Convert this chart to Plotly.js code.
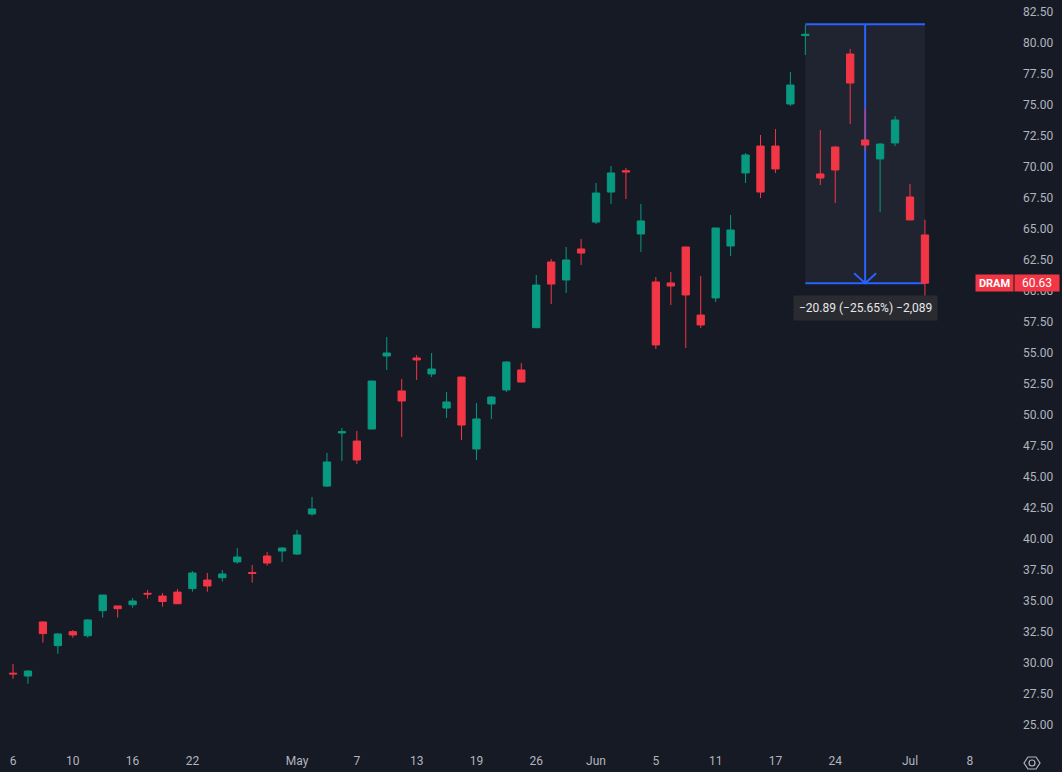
<!DOCTYPE html>
<html>
<head>
<meta charset="utf-8">
<script src="https://cdn.plot.ly/plotly-3.0.1.min.js"></script>
<style>
  html, body { margin: 0; padding: 0; background: #161a25; }
  #chart { width: 1062px; height: 772px; }
</style>
</head>
<body>
<div id="chart"></div>
<script>
// ---- data ----
const symbol = 'DRAM';
const dates = [
  '2026-04-06','2026-04-07','2026-04-08','2026-04-09','2026-04-10',
  '2026-04-13','2026-04-14','2026-04-15','2026-04-16','2026-04-17',
  '2026-04-20','2026-04-21','2026-04-22','2026-04-23','2026-04-24',
  '2026-04-27','2026-04-28','2026-04-29','2026-04-30','2026-05-01',
  '2026-05-04','2026-05-05','2026-05-06','2026-05-07','2026-05-08',
  '2026-05-11','2026-05-12','2026-05-13','2026-05-14','2026-05-15',
  '2026-05-18','2026-05-19','2026-05-20','2026-05-21','2026-05-22',
  '2026-05-26','2026-05-27','2026-05-28','2026-05-29',
  '2026-06-01','2026-06-02','2026-06-03','2026-06-04','2026-06-05',
  '2026-06-08','2026-06-09','2026-06-10','2026-06-11','2026-06-12',
  '2026-06-15','2026-06-16','2026-06-17','2026-06-18',
  '2026-06-22','2026-06-23','2026-06-24','2026-06-25','2026-06-26',
  '2026-06-29','2026-06-30','2026-07-01','2026-07-02'
];
const holidays = ['2026-05-25','2026-06-19','2026-07-03'];

const open = [
  29.18, 28.95, 33.31, 31.40, 32.53,
  32.20, 34.22, 34.60, 34.70, 35.62,
  35.40, 35.72, 36.00, 36.69, 36.88,
  38.15, 37.30, 38.63, 39.03, 38.79,
  42.02, 44.27, 48.55, 47.90, 48.87,
  54.76, 51.94, 54.60, 53.31, 50.56,
  53.06, 47.26, 50.89, 52.02, 53.63,
  57.04, 62.34, 60.89, 63.39,
  65.56, 67.98, 69.70, 64.60, 60.73,
  60.65, 63.55, 58.06, 59.44, 63.63,
  69.52, 71.69, 71.69, 75.08,
  80.60, 69.44, 71.61, 79.11, 72.18,
  70.65, 71.94, 67.58, 64.52
];
const high = [
  29.92, 29.43, 33.35, 32.42, 32.66,
  33.55, 35.50, 34.62, 35.24, 35.89,
  35.64, 35.97, 37.42, 37.26, 37.50,
  39.27, 37.90, 38.95, 39.35, 40.73,
  43.39, 46.94, 48.95, 48.71, 52.76,
  56.29, 52.90, 54.84, 55.00, 51.85,
  53.08, 50.97, 51.53, 54.35, 54.19,
  61.29, 62.58, 63.55, 64.19,
  68.71, 70.08, 69.92, 67.02, 61.13,
  61.53, 63.57, 61.21, 65.10, 66.13,
  71.13, 72.58, 73.06, 77.66,
  81.45, 72.98, 71.70, 79.52, 74.68,
  71.93, 74.11, 68.63, 65.75
];
const low = [
  28.73, 28.33, 31.64, 30.75, 32.04,
  32.04, 33.66, 33.66, 34.46, 35.19,
  34.54, 34.76, 35.75, 35.75, 36.56,
  38.01, 36.48, 37.85, 38.15, 38.71,
  41.88, 44.19, 46.29, 46.05, 48.85,
  53.63, 48.23, 52.82, 53.06, 49.76,
  47.98, 46.37, 49.68, 51.85, 52.64,
  57.00, 58.95, 59.84, 62.10,
  65.40, 67.02, 67.42, 63.15, 55.32,
  58.87, 55.40, 57.02, 59.11, 62.82,
  68.71, 67.50, 69.52, 74.92,
  79.03, 68.55, 67.10, 73.47, 71.29,
  66.37, 71.69, 65.73, 58.95
];
const close = [
  29.12, 29.35, 32.37, 32.34, 32.26,
  33.47, 35.48, 34.38, 35.00, 35.56,
  34.96, 34.78, 37.26, 36.21, 37.18,
  38.55, 37.22, 38.06, 39.27, 40.32,
  42.42, 46.21, 48.65, 46.37, 52.74,
  55.00, 51.13, 54.44, 53.71, 51.05,
  49.19, 49.68, 51.45, 54.27, 52.66,
  60.48, 60.56, 62.50, 63.06,
  67.90, 69.52, 69.60, 65.65, 55.65,
  60.40, 59.68, 57.26, 65.08, 64.92,
  70.97, 67.98, 69.84, 76.61,
  80.70, 69.11, 69.76, 76.77, 71.77,
  71.85, 73.79, 65.73, 60.63
];

const tickDates = ['2026-04-06','2026-04-10','2026-04-16','2026-04-22','2026-05-01',
  '2026-05-07','2026-05-13','2026-05-19','2026-05-26','2026-06-01','2026-06-05',
  '2026-06-11','2026-06-17','2026-06-24','2026-07-01','2026-07-08'];
const tickLabels = ['6','10','16','22','May','7','13','19','26','Jun','5','11','17','24','Jul','8'];

// measurement tool
const measureFrom = '2026-06-22';
const measureTo = '2026-07-02';
const measureTop = 81.52;
const measureBottom = 60.63;
const measureText = '\u221220.89 (\u221225.65%) \u22122,089';
const lastPrice = 60.63;

// ---- helpers ----
function tradingIndex(ds) {
  const start = new Date(dates[0] + 'T00:00:00Z');
  const end = new Date(ds + 'T00:00:00Z');
  let n = 0;
  for (let d = new Date(start); d < end; d.setUTCDate(d.getUTCDate() + 1)) {
    const wd = d.getUTCDay();
    const iso = d.toISOString().slice(0, 10);
    if (wd !== 0 && wd !== 6 && holidays.indexOf(iso) < 0) n++;
  }
  return n;
}
const x = dates.map(tradingIndex);
const tickvals = tickDates.map(tradingIndex);

// layout geometry
const W = 1062, H = 772, mR = 57, mB = 28;
const plotW = W - mR, plotH = H - mB;
const step = 14.95, firstPx = 13;
const xr = [(0 - firstPx) / step, (plotW - firstPx) / step];
const pxPerUnit = 12.4;
const yr = [82.5 - (plotH - 12) / pxPerUnit, 82.5 + 12 / pxPerUnit];
const px = v => v / plotW;
const py = v => (plotH - v) / plotH;

const green = '#089981', red = '#f23645', blue = '#2962ff';

const trace = {
  type: 'candlestick',
  x: x, open: open, high: high, low: low, close: close,
  increasing: { line: { color: green, width: 1 }, fillcolor: green },
  decreasing: { line: { color: red, width: 1 }, fillcolor: red },
  whiskerwidth: 0,
  hoverinfo: 'skip',
  showlegend: false
};

const mx0 = tradingIndex(measureFrom), mx1 = tradingIndex(measureTo);
const mxm = (mx0 + mx1) / 2;
const ahx = 11 / step, ahy = 10 / pxPerUnit;

// settings icon hexagon (pixel coords)
const hex = [[1024,763],[1028,757],[1036,757],[1040,763],[1036,769],[1028,769]];
const hexPath = 'M ' + hex.map(p => px(p[0]).toFixed(5) + ',' + py(p[1]).toFixed(5)).join(' L ') + ' Z';

const shapes = [
  { type: 'rect', layer: 'below', xref: 'x', yref: 'y', x0: mx0, x1: mx1, y0: measureBottom, y1: measureTop,
    fillcolor: 'rgba(130,140,170,0.09)', line: { width: 0 } },
  { type: 'line', layer: 'below', xref: 'x', yref: 'y', x0: mx0, x1: mx1, y0: measureTop, y1: measureTop,
    line: { color: blue, width: 2 } },
  { type: 'line', layer: 'below', xref: 'x', yref: 'y', x0: mx0, x1: mx1, y0: measureBottom, y1: measureBottom,
    line: { color: blue, width: 2 } },
  { type: 'line', layer: 'below', xref: 'x', yref: 'y', x0: mxm, x1: mxm, y0: measureTop, y1: measureBottom,
    line: { color: blue, width: 2 } },
  { type: 'path', layer: 'below', xref: 'x', yref: 'y',
    path: 'M ' + (mxm - ahx) + ',' + (measureBottom + ahy) + ' L ' + mxm + ',' + measureBottom + ' L ' + (mxm + ahx) + ',' + (measureBottom + ahy),
    line: { color: blue, width: 2 } },
  { type: 'path', xref: 'paper', yref: 'paper', path: hexPath, line: { color: '#b2b5be', width: 1.2 } },
  { type: 'circle', xref: 'paper', yref: 'paper', x0: px(1029), x1: px(1035), y0: py(766), y1: py(760),
    line: { color: '#b2b5be', width: 1.2 } }
];

const annotations = [
  { xref: 'x', yref: 'y', x: mxm, y: measureBottom, yanchor: 'top', yshift: -12, showarrow: false,
    text: measureText, bgcolor: '#2a2b30', borderpad: 5,
    font: { family: 'Roboto, sans-serif', size: 12, color: '#e6e8ee' } },
  { xref: 'paper', yref: 'y', x: px(994.5), y: lastPrice, xanchor: 'center', yanchor: 'middle', showarrow: false,
    text: '<b>' + symbol + '</b>', bgcolor: red, borderpad: 0, width: 37, height: 16,
    font: { family: 'Roboto, sans-serif', size: 11, color: '#ffffff' } },
  { xref: 'paper', yref: 'y', x: px(1037), y: lastPrice, xanchor: 'center', yanchor: 'middle', showarrow: false,
    text: lastPrice.toFixed(2), bgcolor: red, borderpad: 0, width: 44, height: 16,
    font: { family: 'Roboto, sans-serif', size: 12, color: '#ffffff' } }
];

const layout = {
  width: W, height: H,
  margin: { l: 0, r: mR, t: 0, b: mB, pad: 0 },
  paper_bgcolor: '#161a25',
  plot_bgcolor: '#161a25',
  font: { family: 'Roboto, sans-serif', size: 12, color: '#b2b5be' },
  showlegend: false,
  xaxis: {
    type: 'linear', range: xr, showgrid: false, zeroline: false, showline: false,
    tickmode: 'array', tickvals: tickvals, ticktext: tickLabels,
    ticks: '', ticklabelstandoff: 8, rangeslider: { visible: false }, fixedrange: true,
    tickfont: { size: 12, color: '#b2b5be' }
  },
  yaxis: {
    side: 'right', range: yr, showgrid: false, zeroline: false, showline: false,
    tick0: 25, dtick: 2.5, tickformat: '.2f', ticks: '', ticklabelstandoff: 17,
    tickfont: { size: 12, color: '#b2b5be' }, fixedrange: true
  },
  shapes: shapes,
  annotations: annotations
};

Plotly.newPlot('chart', [trace], layout, { displayModeBar: false, staticPlot: true });
</script>
</body>
</html>
